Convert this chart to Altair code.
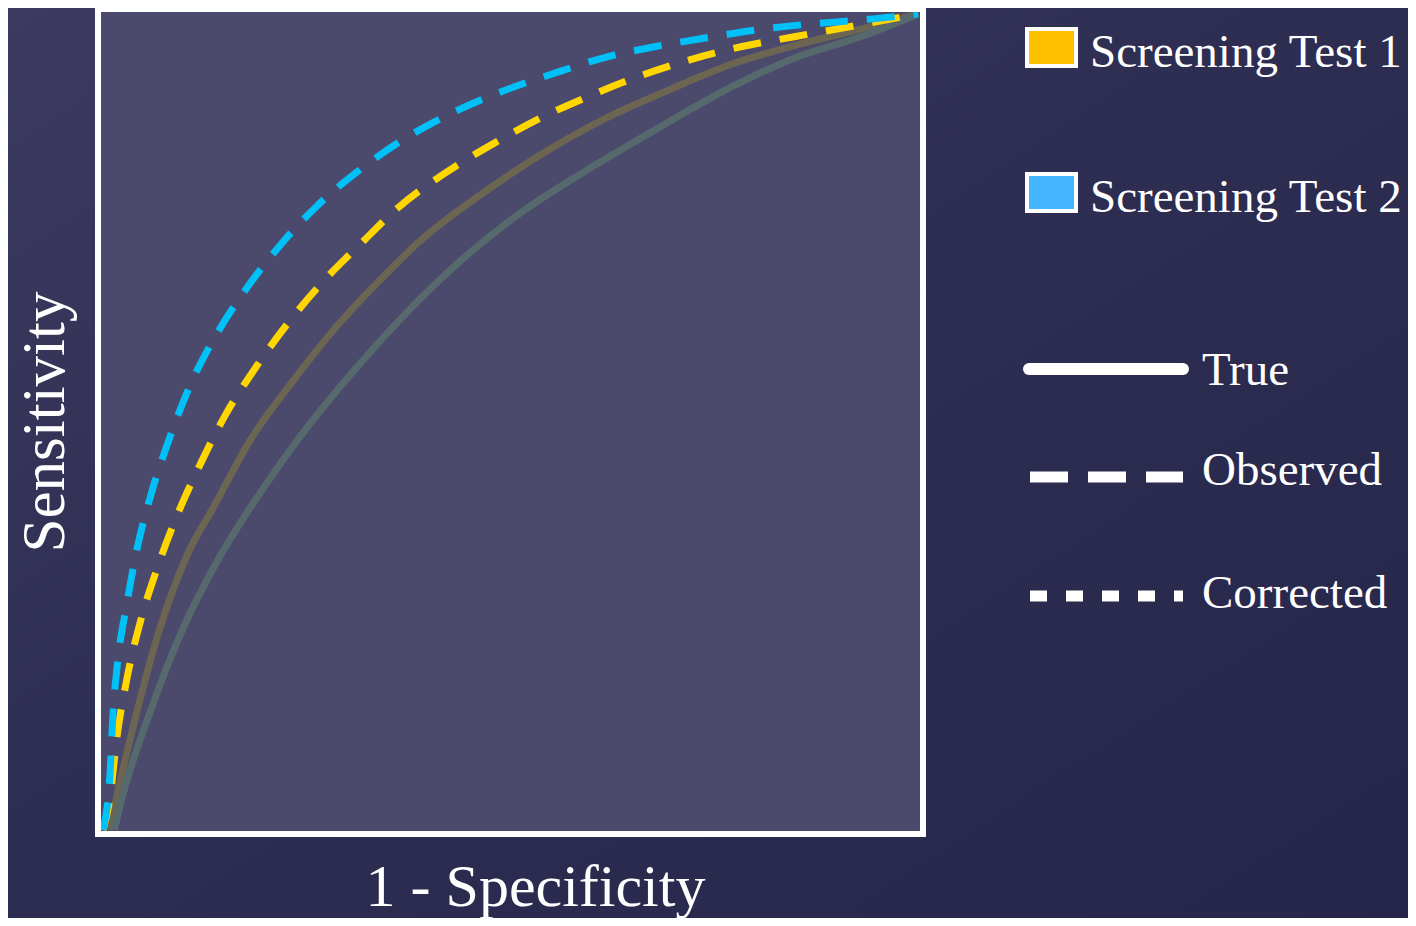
import altair as alt
import pandas as pd

# ---- data ----
series_names = ["Screening Test 1", "Screening Test 2"]
line_labels = ["True", "Observed", "Corrected"]

t1_obs_x = [0.0, 0.0085, 0.017, 0.029, 0.047, 0.065, 0.090, 0.118, 0.150, 0.187, 0.227, 0.272,
            0.318, 0.358, 0.423, 0.479, 0.536, 0.596, 0.659, 0.721, 0.784, 0.848, 0.914, 1.0]
t1_obs_y = [0.0, 0.038, 0.112, 0.183, 0.259, 0.316, 0.383, 0.445, 0.508, 0.566, 0.621, 0.674,
            0.720, 0.759, 0.807, 0.841, 0.872, 0.899, 0.924, 0.944, 0.960, 0.972, 0.984, 1.0]

t2_obs_x = [0.0, 0.0085, 0.012, 0.018, 0.029, 0.042, 0.059, 0.081, 0.108, 0.138, 0.175, 0.217,
            0.263, 0.314, 0.370, 0.427, 0.487, 0.556, 0.621, 0.678, 0.742, 0.806, 0.872, 0.936, 1.0]
t2_obs_y = [0.0, 0.065, 0.136, 0.205, 0.275, 0.345, 0.411, 0.478, 0.547, 0.605, 0.662, 0.716,
            0.765, 0.808, 0.847, 0.878, 0.904, 0.928, 0.948, 0.960, 0.971, 0.981, 0.988, 0.993, 1.0]

t1_true_x = [0.008, 0.017, 0.041, 0.069, 0.103, 0.136, 0.181, 0.233, 0.285, 0.358, 0.387,
             0.467, 0.548, 0.629, 0.690, 0.770, 0.851, 0.932, 1.0]
t1_true_y = [0.0, 0.041, 0.142, 0.244, 0.336, 0.396, 0.478, 0.550, 0.615, 0.692, 0.720,
             0.781, 0.834, 0.878, 0.905, 0.938, 0.962, 0.982, 1.0]

t2_true_x = [0.014, 0.024, 0.057, 0.097, 0.144, 0.193, 0.245, 0.297, 0.362, 0.427, 0.508,
             0.588, 0.669, 0.770, 0.851, 0.932, 1.0]
t2_true_y = [0.0, 0.041, 0.142, 0.244, 0.336, 0.413, 0.486, 0.550, 0.623, 0.687, 0.753,
             0.805, 0.853, 0.910, 0.947, 0.973, 1.0]

true_colors = ["#6b6552", "#566a6d"]
obs_colors = ["#FFD600", "#00C0F8"]
swatch_colors = ["#FFC000", "#47B4FF"]

# ---- tables ----
obs = pd.concat([
    pd.DataFrame({"fpr": t1_obs_x, "tpr": t1_obs_y, "test": series_names[0]}),
    pd.DataFrame({"fpr": t2_obs_x, "tpr": t2_obs_y, "test": series_names[1]}),
])
true = pd.concat([
    pd.DataFrame({"fpr": t1_true_x, "tpr": t1_true_y, "test": series_names[0]}),
    pd.DataFrame({"fpr": t2_true_x, "tpr": t2_true_y, "test": series_names[1]}),
])

FONT = "Liberation Serif"
W = H = 825

xsc = alt.Scale(domain=[-0.006, 1.006], nice=False, zero=False)
ysc = alt.Scale(domain=[-0.005, 1.006], nice=False, zero=False)
xax = alt.Axis(title="1 - Specificity", labels=False, ticks=False, domain=False, grid=False,
               titleFont=FONT, titleFontSize=60, titleFontWeight="normal", titleColor="white",
               titlePadding=24, titleX=437, zindex=1)
yax = alt.Axis(title="Sensitivity", labels=False, ticks=False, domain=False, grid=False,
               titleFont=FONT, titleFontSize=61, titleFontWeight="normal", titleColor="white",
               titlePadding=22, zindex=1)

one = pd.DataFrame({"a": [0]})

# page background (soft gradient) and plot panel fill
bg_grad = alt.LinearGradient(
    gradient="linear", x1=0, y1=0, x2=1, y2=1,
    stops=[alt.GradientStop(color="#3c3b5f", offset=0),
           alt.GradientStop(color="#2e2d52", offset=0.45),
           alt.GradientStop(color="#26254a", offset=1)])
bg = alt.Chart(one).mark_rect(fill=bg_grad, clip=False).encode(
    x=alt.value(-92), x2=alt.value(1312), y=alt.value(-2), y2=alt.value(912))
panel = alt.Chart(one).mark_rect(fill="#4b4a6c", clip=False).encode(
    x=alt.value(0), x2=alt.value(W), y=alt.value(0), y2=alt.value(H))

true_lines = alt.Chart(true).mark_line(strokeWidth=7, strokeCap="butt", interpolate="monotone").encode(
    x=alt.X("fpr:Q", scale=xsc, axis=xax),
    y=alt.Y("tpr:Q", scale=ysc, axis=yax),
    color=alt.Color("test:N", scale=alt.Scale(domain=series_names, range=true_colors), legend=None),
    detail="test:N",
)

obs_lines = alt.Chart(obs).mark_line(strokeWidth=7, strokeDash=[28, 19], strokeCap="butt",
                                     interpolate="monotone").encode(
    x=alt.X("fpr:Q", scale=xsc, axis=xax),
    y=alt.Y("tpr:Q", scale=ysc, axis=yax),
    color=alt.Color("test:N", scale=alt.Scale(domain=series_names, range=obs_colors), legend=None),
    detail="test:N",
)

curves = alt.layer(true_lines, obs_lines).resolve_scale(color="independent")

border = alt.Chart(one).mark_rect(filled=False, stroke="white", strokeWidth=6, clip=False).encode(
    x=alt.value(0), x2=alt.value(W), y=alt.value(0), y2=alt.value(H))

# ---- hand-built legend (outside the plot area) ----
sw1 = alt.Chart(one).mark_rect(
    fill=swatch_colors[0], stroke="white", strokeWidth=4, clip=False).encode(
    x=alt.value(929), x2=alt.value(978), y=alt.value(20), y2=alt.value(57))
sw2 = alt.Chart(one).mark_rect(
    fill=swatch_colors[1], stroke="white", strokeWidth=4, clip=False).encode(
    x=alt.value(929), x2=alt.value(978), y=alt.value(165), y2=alt.value(202))

def label(txt, x, y):
    return alt.Chart(pd.DataFrame({"t": [txt]})).mark_text(
        font=FONT, fontSize=47, color="white", align="left", baseline="alphabetic",
        clip=False).encode(text="t:N", x=alt.value(x), y=alt.value(y))

lab1 = label(series_names[0], 992, 58)
lab2 = label(series_names[1], 992, 203)
lab3 = label(line_labels[0], 1104, 376)
lab4 = label(line_labels[1], 1104, 476)
lab5 = label(line_labels[2], 1104, 599)

rule_true = alt.Chart(one).mark_rule(color="white", strokeWidth=12, strokeCap="round", clip=False).encode(
    x=alt.value(931), x2=alt.value(1085), y=alt.value(360))
rule_obs = alt.Chart(one).mark_rule(color="white", strokeWidth=11, strokeDash=[38, 20],
                                    strokeCap="butt", clip=False).encode(
    x=alt.value(932), x2=alt.value(1085), y=alt.value(468))
rule_cor = alt.Chart(one).mark_rule(color="white", strokeWidth=11, strokeDash=[17, 19],
                                    strokeCap="butt", clip=False).encode(
    x=alt.value(932), x2=alt.value(1085), y=alt.value(587))

chart = alt.layer(
    bg, panel, curves, border, sw1, sw2, lab1, lab2, lab3, lab4, lab5, rule_true, rule_obs, rule_cor
).resolve_scale(color="independent").properties(
    width=W, height=H,
    autosize=alt.AutoSizeParams(type="none"),
    padding={"left": 90, "top": 1, "right": 485, "bottom": 84},
    background="#2d2c50",
).configure_view(
    stroke="transparent"
)

chart.save("out.html", embed_options={"renderer": "svg", "actions": False})
